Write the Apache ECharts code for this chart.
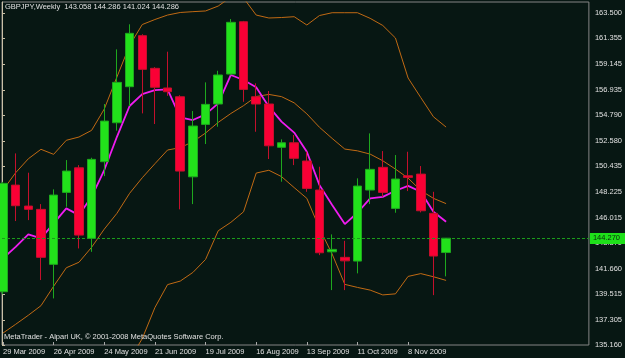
<!DOCTYPE html>
<html><head><meta charset="utf-8">
<script src="https://cdn.jsdelivr.net/npm/echarts@6/dist/echarts.min.js"></script>
<style>html,body{margin:0;padding:0;background:#071713}#c{width:625px;height:358px}</style>
</head><body><div id="c"></div>
<script>
// ---- data (GBPJPY weekly) ----
const categories = ['29 Mar 2009','5 Apr 2009','12 Apr 2009','19 Apr 2009','26 Apr 2009','3 May 2009','10 May 2009','17 May 2009',
  '24 May 2009','31 May 2009','7 Jun 2009','14 Jun 2009','21 Jun 2009','28 Jun 2009','5 Jul 2009','12 Jul 2009',
  '19 Jul 2009','26 Jul 2009','2 Aug 2009','9 Aug 2009','16 Aug 2009','23 Aug 2009','30 Aug 2009','6 Sep 2009',
  '13 Sep 2009','20 Sep 2009','27 Sep 2009','4 Oct 2009','11 Oct 2009','18 Oct 2009','25 Oct 2009','1 Nov 2009',
  '8 Nov 2009','15 Nov 2009','22 Nov 2009','29 Nov 2009'];
// empty weeks of chart shift on the right
const futureWeeks = ['6 Dec 2009','13 Dec 2009','20 Dec 2009','27 Dec 2009','3 Jan 2010','10 Jan 2010',
  '17 Jan 2010','24 Jan 2010','31 Jan 2010','7 Feb 2010','14 Feb 2010','21 Feb 2010'];

const opens  = [139.71,148.82,147.03,146.75,142.05,148.20,150.30,144.27,150.82,154.15,157.23,161.59,
  158.80,157.12,156.37,149.53,154.01,155.75,158.31,162.78,156.37,155.75,152.05,152.44,
  150.88,148.40,143.12,142.65,142.33,148.40,150.34,146.83,149.62,149.76,146.41,143.058];
const highs  = [149.10,151.53,149.88,147.20,148.46,150.96,150.53,151.16,155.75,160.42,162.56,161.71,
  158.90,160.22,156.50,155.15,157.60,158.59,163.01,162.85,157.52,156.86,152.73,153.10,
  151.67,150.39,144.61,144.06,149.40,153.24,151.73,151.39,151.67,150.45,148.25,144.286];
const lows   = [139.50,145.75,145.83,140.71,139.14,146.97,143.41,143.12,149.59,153.47,155.58,154.95,
  154.04,156.45,146.75,147.20,152.33,153.81,158.20,155.94,153.38,151.05,149.11,150.53,
  148.25,142.84,139.85,139.85,141.28,147.20,147.82,146.46,148.31,146.49,139.42,141.024];
const closes = [148.97,147.06,146.75,142.65,147.97,150.02,144.55,151.02,154.29,157.60,161.79,158.71,
  157.18,156.80,150.02,153.87,155.72,158.23,162.73,157.00,155.75,152.18,152.44,151.11,
  148.54,143.04,143.33,142.35,148.74,150.17,148.20,149.34,149.48,146.63,142.76,144.286];

const maLine = [142.56,143.55,144.61,144.27,145.55,146.83,146.26,147.82,150.11,152.95,155.58,156.60,
  156.94,157.00,154.61,154.38,154.87,155.81,158.23,157.80,157.18,155.52,154.24,153.31,
  151.67,148.82,147.12,145.49,146.46,147.69,147.82,148.34,148.76,148.25,146.54,145.69];
const bbUpper = [148.40,149.88,151.07,151.88,151.45,152.65,152.93,153.50,155.32,158.06,160.76,162.54,
  162.97,163.35,163.57,163.64,163.70,164.12,164.89,164.81,163.35,163.10,163.14,163.21,
  162.50,163.31,163.55,163.55,163.55,163.07,162.46,161.39,157.97,156.30,154.66,153.78];
const bbMiddle = [136.18,136.93,137.70,138.52,140.18,141.76,142.23,143.51,145.06,146.41,148.12,149.45,
  150.65,151.82,152.02,152.53,153.27,154.18,154.94,155.61,156.39,156.57,156.38,155.85,
  154.91,153.76,152.81,151.90,151.75,151.47,150.90,150.19,149.42,148.36,147.69,147.24];
const bbLower = [123.96,123.98,124.33,125.16,128.91,130.87,131.53,133.52,134.80,134.76,133.90,135.71,
  138.36,140.32,140.62,141.36,142.47,144.92,145.64,146.54,149.85,150.09,149.55,148.61,
  147.69,145.12,142.93,140.34,140.08,139.85,139.44,139.53,141.02,141.26,140.99,140.68];

const priceTicks = ['135.160','137.305','139.515','141.660','143.870','146.015','148.225',
  '150.435','152.580','154.790','156.935','159.145','161.355','163.500'];
const lastPrice = 144.27;
const lastPriceLabel = '144.270';
const titleText = 'GBPJPY,Weekly  143.058 144.286 141.024 144.286';
const copyrightText = 'MetaTrader - Alpari UK, \u00A9 2001-2008 MetaQuotes Software Corp.';

// ---- chart ----
const FONT = 'Liberation Sans';
const FS = 7.5;
const TXT = '#e0e0e0';
const Y_MIN = 135.16, Y_MAX = 164.466;
const axisData = categories.concat(futureWeeks);
const ohlc = opens.map((o, i) => [o, closes[i], lows[i], highs[i]]);
const labelIdx = (idx) => idx % 4 === 0 && idx < categories.length;
const tickValues = priceTicks.map(Number);

const chart = echarts.init(document.getElementById('c'), null, {renderer: 'canvas'});
chart.setOption({
  backgroundColor: '#071713',
  animation: false,
  textStyle: {fontFamily: FONT},
  title: [
    {text: titleText, left: 5, top: 3, padding: 0,
     textStyle: {color: TXT, fontSize: FS, fontWeight: 'normal', fontFamily: FONT}},
    {text: copyrightText, left: 4, top: 333, padding: 0,
     textStyle: {color: TXT, fontSize: FS, fontWeight: 'normal', fontFamily: FONT}}
  ],
  grid: [
    {left: 2.67, right: 27, top: 2, bottom: 13},
    {left: 2, right: 30, top: 2, bottom: 13, show: true, borderColor: '#858585', borderWidth: 1,
     backgroundColor: 'transparent'}
  ],
  xAxis: [
    {type: 'category', gridIndex: 0, data: axisData, boundaryGap: false,
     axisLine: {show: false},
     axisTick: {show: true, inside: true, length: 3, interval: labelIdx, lineStyle: {color: '#a8a8a8'}},
     axisLabel: {interval: labelIdx, align: 'left', margin: 3, color: TXT, fontSize: FS, fontFamily: FONT},
     splitLine: {show: false}},
    {type: 'value', gridIndex: 1, show: false, min: 0, max: 1}
  ],
  yAxis: [
    {type: 'value', gridIndex: 0, min: Y_MIN, max: Y_MAX, show: false, splitLine: {show: false}},
    {type: 'value', gridIndex: 1, min: Y_MIN, max: Y_MAX, position: 'right',
     axisLine: {show: true, lineStyle: {color: '#c9c0a6'}},
     axisTick: {show: true, length: 3, customValues: tickValues, lineStyle: {color: '#c9c0a6'}},
     axisLabel: {customValues: tickValues, margin: 6, color: TXT, fontSize: FS, fontFamily: FONT,
       formatter: (v) => v.toFixed(3)},
     splitLine: {show: false}}
  ],
  series: [
    {type: 'line', xAxisIndex: 1, yAxisIndex: 1, data: [], z: 1,
     markLine: {symbol: 'none', silent: true, animation: false,
       data: [{yAxis: lastPrice}],
       lineStyle: {color: '#1c9c1c', type: [3, 2], width: 1},
       label: {show: true, position: 'end', formatter: lastPriceLabel, distance: 1,
         backgroundColor: '#1ee01a', color: '#0a2a0a', fontSize: FS, fontFamily: FONT, padding: [2, 6, 1, 3]},
       emphasis: {disabled: true}}},
    {name: 'BB upper', type: 'line', data: bbUpper, showSymbol: false, symbol: 'none',
     lineStyle: {color: '#c06a14', width: 1}, z: 2},
    {name: 'BB middle', type: 'line', data: bbMiddle, showSymbol: false, symbol: 'none',
     lineStyle: {color: '#c06a14', width: 1}, z: 2},
    {name: 'BB lower', type: 'line', data: bbLower, showSymbol: false, symbol: 'none',
     lineStyle: {color: '#c06a14', width: 1}, z: 2},
    {name: 'MA', type: 'line', data: maLine, showSymbol: false, symbol: 'none',
     lineStyle: {color: '#f01cf0', width: 1.8}, z: 2},
    {name: 'GBPJPY', type: 'candlestick', data: ohlc, barWidth: 9, z: 3,
     itemStyle: {color: '#22e11b', color0: '#fa0035', borderColor: '#1ea81e', borderColor0: '#c4102c', borderWidth: 1}}
  ]
});
</script></body></html>
